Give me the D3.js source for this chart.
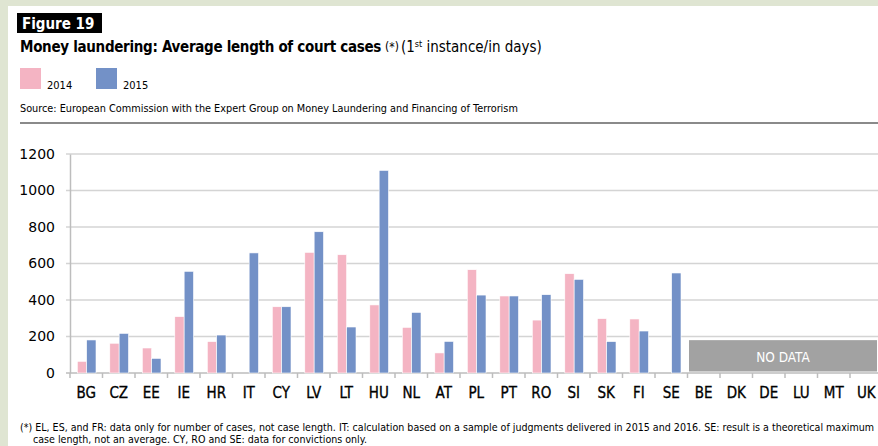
<!DOCTYPE html>
<html>
<head>
<meta charset="utf-8">
<script src="https://cdn.jsdelivr.net/npm/d3@7"></script>
<style>
  body { margin: 0; background: #dfe5d2; }
  svg { display: block; }
  .cond { font-family: "DejaVu Sans Condensed", "DejaVu Sans", sans-serif; }
</style>
</head>
<body>
<div id="chart-area"></div>
<script>
const countries = ['BG', 'CZ', 'EE', 'IE', 'HR', 'IT', 'CY', 'LV', 'LT', 'HU', 'NL', 'AT', 'PL',
  'PT', 'RO', 'SI', 'SK', 'FI', 'SE', 'BE', 'DK', 'DE', 'LU', 'MT', 'UK'];
const years = ['2014', '2015'];
const values2014 = [64, 163, 137, 309, 172, null, 363, 661, 648, 373, 250, 110, 566,
  422, 290, 544, 298, 296, null, null, null, null, null, null, null];
const values2015 = [181, 217, 80, 557, 208, 658, 363, 774, 252, 1110, 332, 173, 427,
  422, 429, 513, 172, 230, 548, null, null, null, null, null, null];
const noDataCountries = ['BE', 'DK', 'DE', 'LU', 'MT', 'UK'];
const noDataLevel = 180;
const yTicks = [0, 200, 400, 600, 800, 1000, 1200];
const colors = {'2014': '#f4b4c3', '2015': '#7391c7'};

const W = 878, H = 446;
const margin = {left: 70, top: 154, bottom: 73};
const height = H - margin.top - margin.bottom;

const svg = d3.select('#chart-area')
  .append('svg')
    .attr('width', W)
    .attr('height', H);

// white panel
svg.append('rect')
  .attr('x', 8).attr('y', 6)
  .attr('width', W).attr('height', H)
  .attr('fill', '#fff');

// Figure label
svg.append('rect')
  .attr('x', 17).attr('y', 13)
  .attr('width', 85).attr('height', 20)
  .attr('fill', '#000');
svg.append('text')
  .attr('class', 'cond')
  .attr('x', 22).attr('y', 29)
  .attr('font-size', '15px')
  .attr('font-weight', 'bold')
  .attr('fill', '#fff')
  .text('Figure 19');

// Title
const title = svg.append('text')
  .attr('class', 'cond')
  .attr('x', 20).attr('y', 52)
  .attr('font-size', '15px')
  .attr('fill', '#000');
title.append('tspan').attr('font-weight', 'bold').attr('letter-spacing', '-0.3px')
  .text('Money laundering: Average length of court cases');
title.append('tspan').attr('font-size', '12px').attr('dx', 4).attr('dy', -1).text('(*)');
title.append('tspan').attr('dx', 2).attr('dy', 1).text('(1');
title.append('tspan').attr('font-size', '9px').attr('dy', -5).text('st');
title.append('tspan').attr('dy', 5).text(' instance/in days)');

// Legend
years.forEach((yr, i) => {
  const lx = 20 + i * 76;
  svg.append('rect')
    .attr('x', lx).attr('y', 68)
    .attr('width', 21).attr('height', 21)
    .attr('fill', colors[yr]);
  svg.append('text')
    .attr('class', 'cond')
    .attr('x', lx + 27).attr('y', 89)
    .attr('font-size', '11px')
    .text(yr);
});

// Source
svg.append('text')
  .attr('class', 'cond')
  .attr('x', 20).attr('y', 112)
  .attr('font-size', '10.8px')
  .text('Source: European Commission with the Expert Group on Money Laundering and Financing of Terrorism');

svg.append('line')
  .attr('x1', 20).attr('x2', W)
  .attr('y1', 123).attr('y2', 123)
  .attr('stroke', '#8a8a8a')
  .attr('stroke-width', 2);

const g = svg.append('g')
  .attr('transform', `translate(${margin.left}, ${margin.top})`);

const x = d3.scaleBand()
  .domain(countries)
  .range([0, countries.length * 32.5]);

const x1 = d3.scaleBand()
  .domain(years)
  .range([7.3, 26]);

const y = d3.scaleLinear()
  .domain([0, 1200])
  .range([height, 0]);

// gridlines
g.append('g')
  .selectAll('line')
  .data(yTicks.slice(1))
  .enter()
  .append('line')
    .attr('x1', -4).attr('x2', W)
    .attr('y1', d => y(d)).attr('y2', d => y(d))
    .attr('stroke', '#d4d4d4')
    .attr('stroke-width', 1.5);

// y axis
const yAxisCall = d3.axisLeft(y)
  .tickValues(yTicks)
  .tickFormat(d3.format('d'))
  .tickSize(0)
  .tickPadding(15);
const yAxis = g.append('g').call(yAxisCall);
yAxis.select('.domain').attr('stroke', '#bdbdbd').attr('stroke-width', 1.5);
yAxis.selectAll('text')
  .attr('font-family', '"DejaVu Sans", sans-serif')
  .attr('font-size', '14px')
  .attr('fill', '#000');

// x axis
const xAxisCall = d3.axisBottom(x).tickSize(0).tickPadding(14);
const xAxis = g.append('g')
  .attr('transform', `translate(0, ${height})`)
  .call(xAxisCall);
xAxis.select('.domain').remove();
xAxis.selectAll('text')
  .attr('class', 'cond')
  .attr('font-size', '15px')
  .attr('fill', '#000')
  .attr('stroke', '#000')
  .attr('stroke-width', 0.3);
xAxis.append('line')
  .attr('x1', -4).attr('x2', W)
  .attr('stroke', '#bdbdbd')
  .attr('stroke-width', 1.5);
xAxis.selectAll('.bound')
  .data(countries)
  .enter()
  .append('line')
    .attr('class', 'bound')
    .attr('x1', d => x(d)).attr('x2', d => x(d))
    .attr('y1', 0).attr('y2', 5)
    .attr('stroke', '#bdbdbd')
    .attr('stroke-width', 1.5);

// bars
const rows = [];
countries.forEach((c, i) => {
  rows.push({c: c, yr: '2014', v: values2014[i]});
  rows.push({c: c, yr: '2015', v: values2015[i]});
});

g.selectAll('.bar')
  .data(rows.filter(d => d.v != null))
  .enter()
  .append('rect')
    .attr('class', 'bar')
    .attr('x', d => x(d.c) + x1(d.yr))
    .attr('y', d => y(d.v))
    .attr('width', x1.bandwidth())
    .attr('height', d => y(0) - y(d.v))
    .attr('fill', d => colors[d.yr])
    .attr('stroke', '#fff')
    .attr('stroke-width', 0.6);

// no data box
const nx0 = x(noDataCountries[0]) + 1.5;
const nx1 = W - margin.left - 1;
g.append('rect')
  .attr('x', nx0)
  .attr('y', y(noDataLevel))
  .attr('width', nx1 - nx0)
  .attr('height', y(0) - y(noDataLevel) - 1.5)
  .attr('fill', '#a2a2a2');
g.append('text')
  .attr('class', 'cond')
  .attr('x', (nx0 + nx1) / 2)
  .attr('y', y(noDataLevel / 2) + 5)
  .attr('text-anchor', 'middle')
  .attr('font-size', '13.5px')
  .attr('fill', '#fff')
  .text('NO DATA');

// footnote
svg.append('text')
  .attr('class', 'cond')
  .attr('x', 20).attr('y', 431)
  .attr('font-size', '10.6px')
  .text('(*) EL, ES, and FR: data only for number of cases, not case length. IT: calculation based on a sample of judgments delivered in 2015 and 2016. SE: result is a theoretical maximum');
svg.append('text')
  .attr('class', 'cond')
  .attr('x', 33).attr('y', 443)
  .attr('font-size', '10.6px')
  .text('case length, not an average. CY, RO and SE: data for convictions only.');
</script>
</body>
</html>
